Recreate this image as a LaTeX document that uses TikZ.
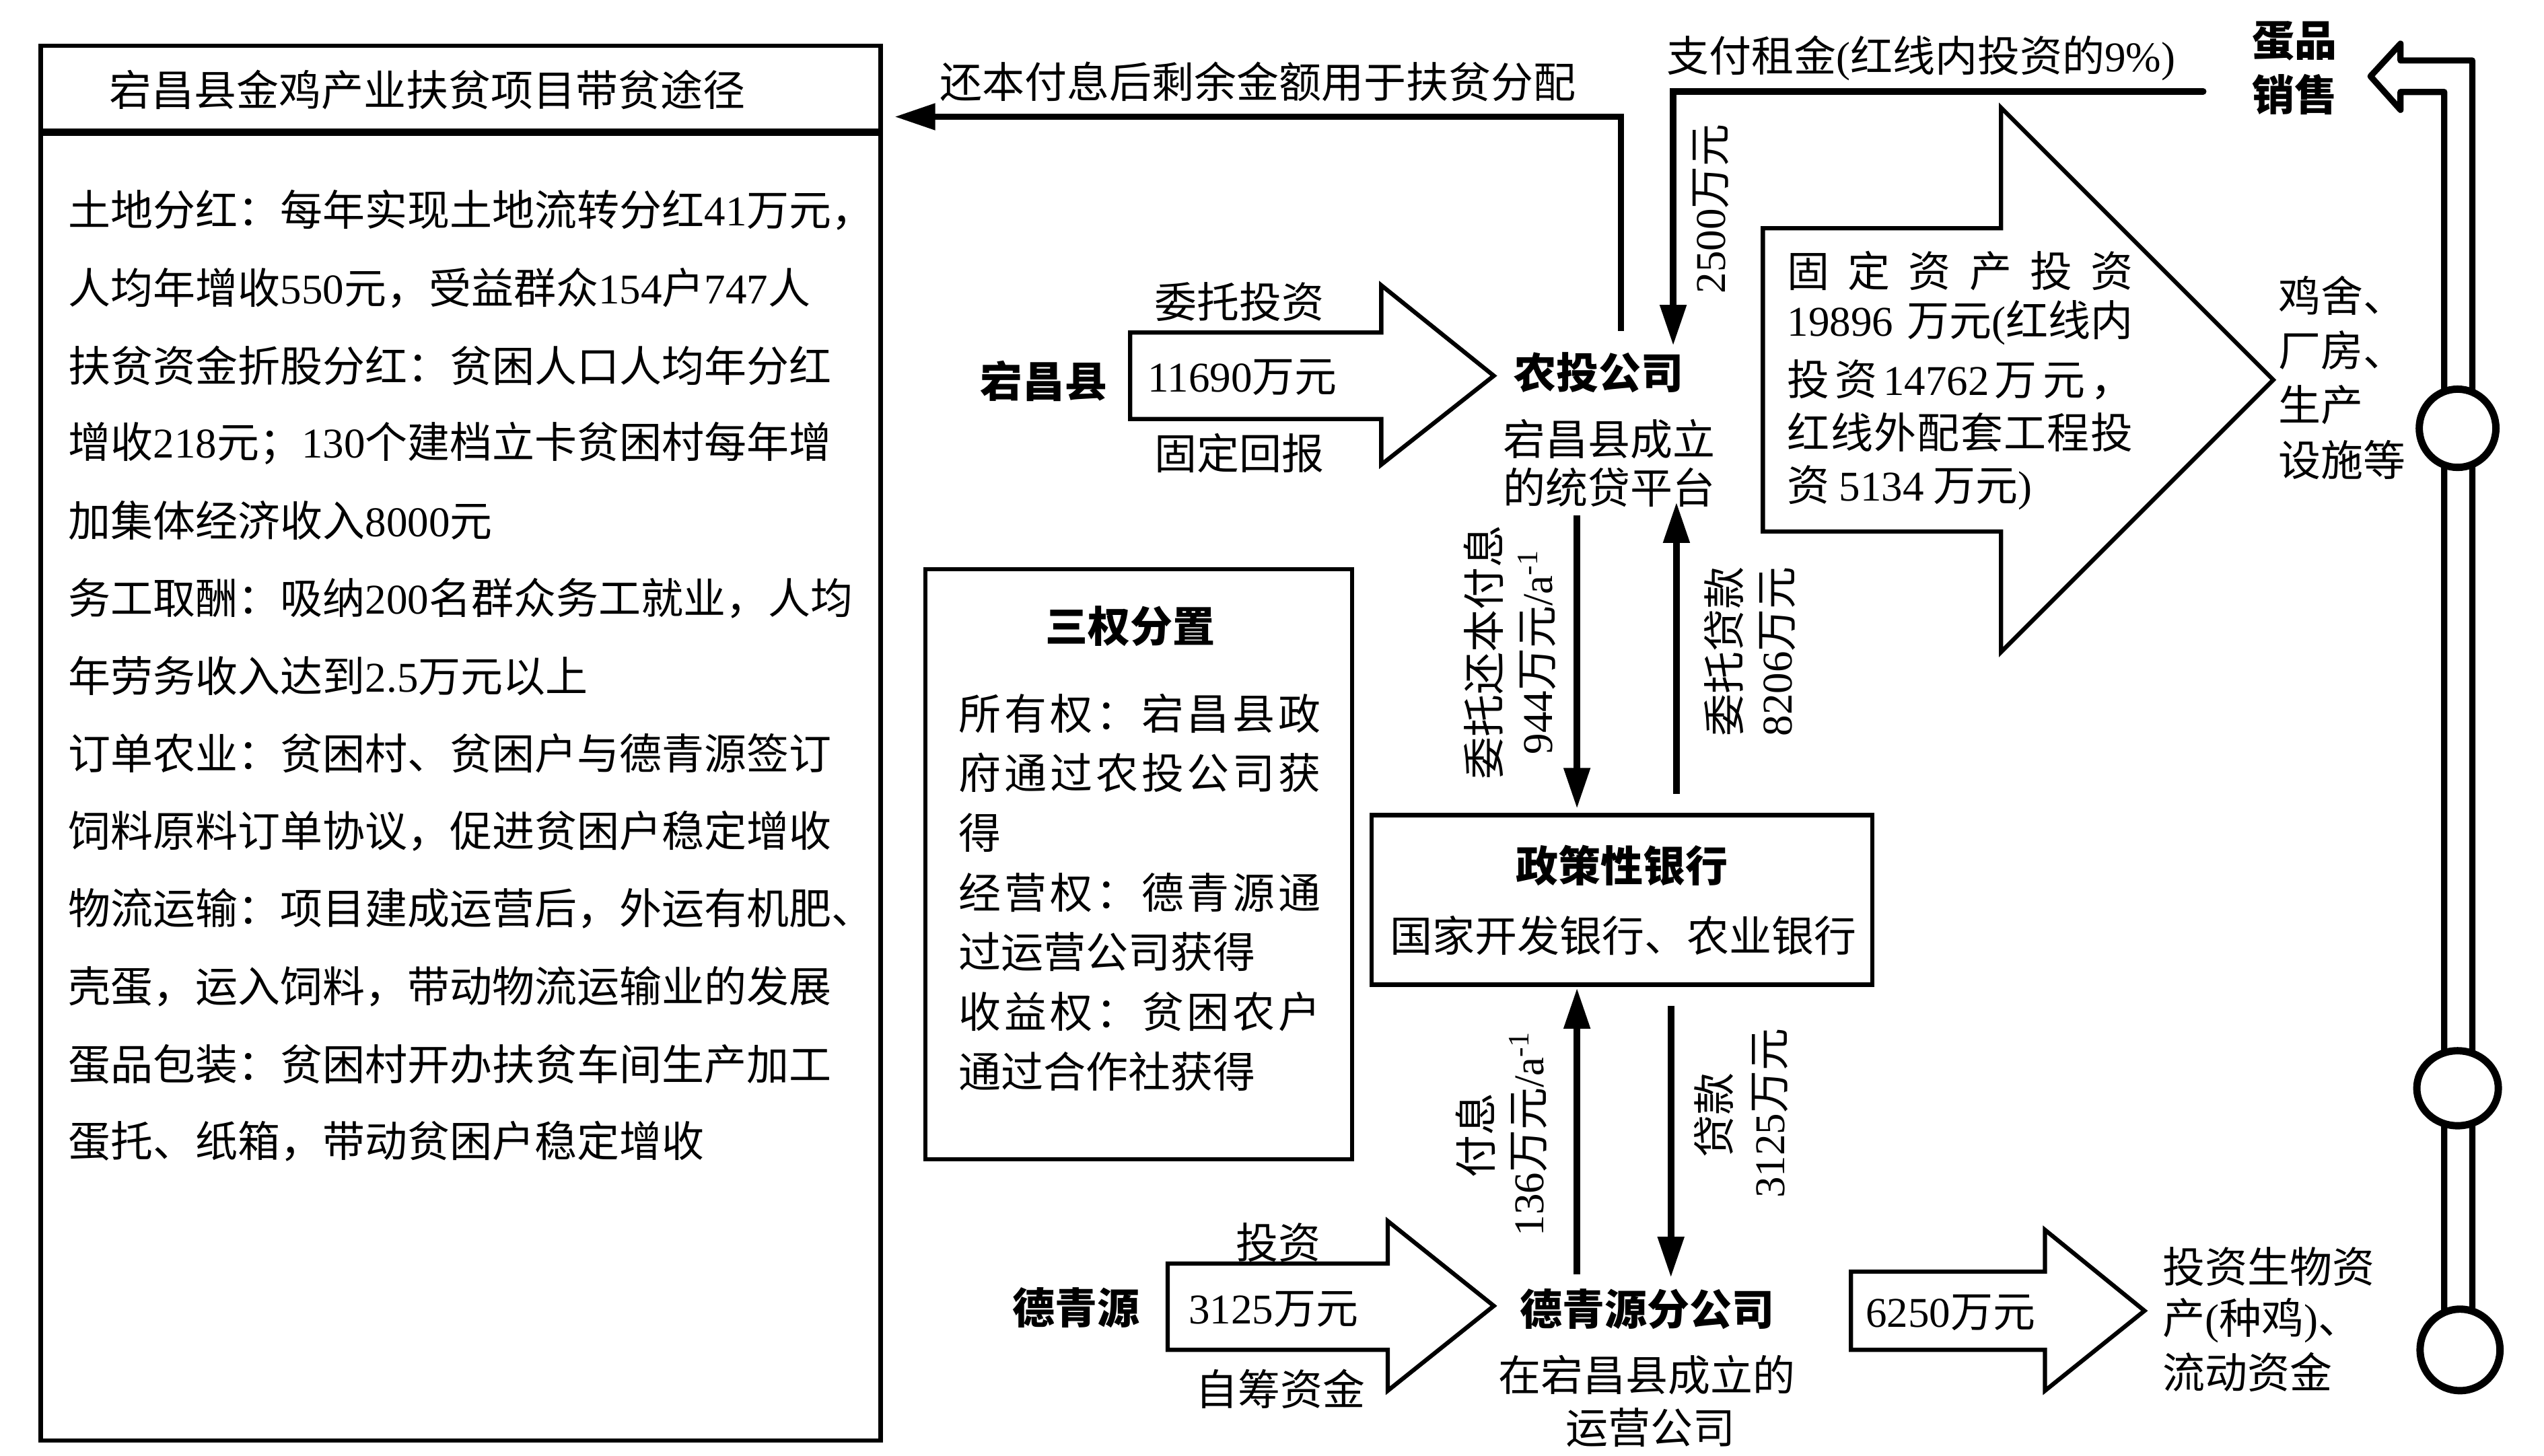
\documentclass[tikz,border=0pt]{standalone}
\usepackage{fontspec}
\setmainfont{Noto Sans CJK SC}
\newfontfamily\tnr{Liberation Serif}
\newcommand\T[1]{{\tnr #1}}
\def\spaceout#1{\spaceouti#1\relax}
\def\spaceouti#1#2{#1\ifx\relax#2\else\hfil\expandafter\spaceouti\expandafter#2\fi}
\usetikzlibrary{arrows.meta}
\begin{document}
\begin{tikzpicture}[x=1pt,y=-1pt,
  every node/.style={inner sep=0pt,outer sep=0pt},
  txt/.style={font=\fontsize{26}{34}\selectfont},
  bld/.style={font=\fontsize{26}{34}\selectfont\bfseries},
  frame/.style={draw,line width=2.6pt},
  blockarrow/.style={draw,line width=2.6pt,line join=miter,miter limit=20},
  conn/.style={line width=4pt,-{Triangle[length=25pt,width=15.5pt]}},
  pipe/.style={line width=3.8pt,line join=round},
  ring/.style={draw,line width=4.5pt,fill=white}]
\fill[white] (0,0) rectangle (1560,893);
\useasboundingbox (0,0) rectangle (1560,893);

% ---------- left box ----------
\node[frame,anchor=north west,minimum width=515pt,minimum height=855.5pt] (leftbox) at (25,28) {};
\coordinate (sep) at (25,81);
\draw[line width=4.6pt] (sep) -- (sep -| leftbox.east);
\node[txt] (title) at (262,55) {宕昌县金鸡产业扶贫项目带贫途径};
\foreach \t [count=\i from 0] in {
  {土地分红：每年实现土地流转分红\T{41}万元，},
  {人均年增收\T{550}元，受益群众\T{154}户\T{747}人},
  {扶贫资金折股分红：贫困人口人均年分红},
  {增收\T{218}元；\T{130}个建档立卡贫困村每年增},
  {加集体经济收入\T{8000}元},
  {务工取酬：吸纳\T{200}名群众务工就业，人均},
  {年劳务收入达到\T{2.5}万元以上},
  {订单农业：贫困村、贫困户与德青源签订},
  {饲料原料订单协议，促进贫困户稳定增收},
  {物流运输：项目建成运营后，外运有机肥、},
  {壳蛋，运入饲料，带动物流运输业的发展},
  {蛋品包装：贫困村开办扶贫车间生产加工},
  {蛋托、纸箱，带动贫困户稳定增收}}
  \node[txt,anchor=west] (lb\i) at (42,{129+47.6*\i}) {\t};

% ---------- three rights box ----------
\node[frame,anchor=north west,minimum width=261.5pt,minimum height=362pt] (sqbox) at (567.5,349) {};
\node[bld] (sqtitle) at (693,384) {三权分置};
\node[txt,anchor=west] (sq1) at (588,437.5) {\makebox[222pt][s]{\spaceout{所有权：宕昌县政}}};
\node[txt,anchor=west] (sq2) at (588,474.1) {\makebox[222pt][s]{\spaceout{府通过农投公司获}}};
\node[txt,anchor=west] (sq3) at (588,510.7) {得};
\node[txt,anchor=west] (sq4) at (588,547.3) {\makebox[222pt][s]{\spaceout{经营权：德青源通}}};
\node[txt,anchor=west] (sq5) at (588,583.9) {过运营公司获得};
\node[txt,anchor=west] (sq6) at (588,620.5) {\makebox[222pt][s]{\spaceout{收益权：贫困农户}}};
\node[txt,anchor=west] (sq7) at (588,657.1) {通过合作社获得};

% ---------- Dangchang row ----------
\node[bld] (dcx) at (640,233.7) {宕昌县};
\draw[blockarrow] (693,204) -- (847,204) -- (847,175) -- (916,230.5) -- (847,285) -- (847,257) -- (693,257) -- cycle;
\node[txt] (wttz) at (760,185) {委托投资};
\node[txt] (a11690) at (762,231.7) {\T{11690}万元};
\node[txt] (gdhb) at (760,278) {固定回报};
\node[bld] (ntgs) at (980.5,228.5) {农投公司};
\node[txt] (nt1) at (986.6,269.5) {宕昌县成立};
\node[txt] (nt2) at (986.6,299) {的统贷平台};

% ---------- top connectors ----------
\coordinate (c1s) at (994,203);
\coordinate (c1m) at (994,71.6);
\coordinate (c1e) at (548.5,71.6);
\draw[conn] (c1s) -- (c1m) -- (c1e);
\node[txt] (surplus) at (771.5,50) {还本付息后剩余金额用于扶贫分配};

\coordinate (c2s) at (1351,56);
\coordinate (c2m) at (1026,56);
\coordinate (c2e) at (1026,212);
\draw[conn,line cap=round] (c2s) -- (c2m) -- (c2e);
\node[txt] (rent) at (1178,35.8) {支付租金\T{(}红线内投资的\T{9\%)}};
\node[txt,rotate=90] (a2500) at (1049,128) {\T{2500}万元};

% ---------- egg sales & pipe ----------
\node[bld] (egg1) at (1407,25) {蛋品};
\node[bld] (egg2) at (1407,58) {销售};
\draw[pipe] (1498.8,828) -- (1498.8,56.4) -- (1472,56.4) -- (1472,67.4) -- (1453.6,46.8)
  -- (1472,26.8) -- (1472,37.1) -- (1516,37.1) -- (1516,828);
\draw[ring] (1507,262.7) ellipse [x radius=23.5pt,y radius=24pt];
\draw[ring] (1507,667.5) ellipse [x radius=25pt,y radius=23pt];
\draw[ring] (1508.5,828) ellipse [x radius=24.5pt,y radius=25pt];

% ---------- fixed asset arrow ----------
\draw[blockarrow] (1081,140) -- (1227,140) -- (1227,66) -- (1394,233) -- (1227,400) -- (1227,326) -- (1081,326) -- cycle;
\node[txt,anchor=west] (fa1) at (1096,166) {\makebox[212pt][s]{\spaceout{固定资产投资}}};
\node[txt,anchor=west] (fa2) at (1096,198) {\makebox[212pt][s]{\T{19896}\hfil 万元\T{(}红线内}};
\node[txt,anchor=west] (fa3) at (1096,233) {\makebox[212pt][s]{\spaceout{投资}\hfil\T{14762}\hfil\spaceout{万元，}}};
\node[txt,anchor=west] (fa4) at (1096,265) {\makebox[212pt][s]{\spaceout{红线外配套工程投}}};
\node[txt,anchor=west] (fa5) at (1096,299) {资\ \T{5134}\ 万元\T{)}};
\node[txt,anchor=west] (fac1) at (1397,181.5) {鸡舍、};
\node[txt,anchor=west] (fac2) at (1397,215) {厂房、};
\node[txt,anchor=west] (fac3) at (1397,248.5) {生产};
\node[txt,anchor=west] (fac4) at (1397,282) {设施等};

% ---------- bank ----------
\node[frame,minimum width=307pt,minimum height=104pt] (bank) at (994.5,552) {};
\node[bld] (banktitle) at (994.5,531) {政策性银行};
\node[txt] (banksub) at (995.5,574) {国家开发银行、农业银行};

\coordinate (c3s) at (967,316);   \coordinate (c3e) at (967,496);
\coordinate (c4s) at (1028,487);  \coordinate (c4e) at (1028,308);
\coordinate (c5s) at (967,781.7); \coordinate (c5e) at (967,606);
\coordinate (c6s) at (1024.6,616.8); \coordinate (c6e) at (1024.6,783.6);
\draw[conn] (c3s) -- (c3e);
\draw[conn] (c4s) -- (c4e);
\draw[conn] (c5s) -- (c5e);
\draw[conn] (c6s) -- (c6e);

\node[txt,rotate=90] (l944a) at (909.6,400) {委托还本付息};
\node[txt,rotate=90] (l944b) at (942.3,400) {\T{944}万元\T{/a\textsuperscript{-1}}};
\node[txt,rotate=90] (l8206a) at (1057,399.5) {委托贷款};
\node[txt,rotate=90] (l8206b) at (1090,399.5) {\T{8206}万元};
\node[txt,rotate=90] (l136a) at (904.8,696.4) {付息};
\node[txt,rotate=90] (l136b) at (937,695.5) {\T{136}万元\T{/a\textsuperscript{-1}}};
\node[txt,rotate=90] (l3125a) at (1051,684) {贷款};
\node[txt,rotate=90] (l3125b) at (1085.4,683) {\T{3125}万元};

% ---------- Deqingyuan row ----------
\node[bld] (dqy) at (660,802) {德青源};
\draw[blockarrow] (716,775) -- (851,775) -- (851,749) -- (916,801) -- (851,853) -- (851,828) -- (716,828) -- cycle;
\node[txt] (tz) at (784,762) {投资};
\node[txt] (a3125) at (781,803) {\T{3125}万元};
\node[txt] (zczj) at (785,852) {自筹资金};
\node[bld] (dqyfgs) at (1010,803) {德青源分公司};
\node[txt] (fg1) at (1010,843.5) {在宕昌县成立的};
\node[txt] (fg2) at (1012,875.7) {运营公司};

\draw[blockarrow] (1135,780) -- (1254,780) -- (1254,754.4) -- (1315,804) -- (1254,853) -- (1254,828) -- (1135,828) -- cycle;
\node[txt] (a6250) at (1196,805) {\T{6250}万元};
\node[txt,anchor=west] (bio1) at (1326,777) {投资生物资};
\node[txt,anchor=west] (bio2) at (1326,809.8) {产\T{(}种鸡\T{)}、};
\node[txt,anchor=west] (bio3) at (1326,841.8) {流动资金};
\end{tikzpicture}
\end{document}
